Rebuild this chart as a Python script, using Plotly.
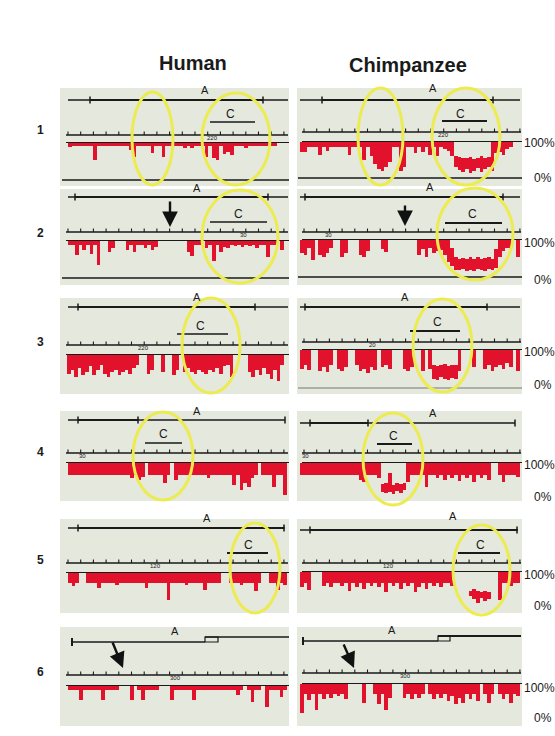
import plotly.graph_objects as go

W, H = 555, 736


def px(x):
    return x / W


def py(y):
    return 1 - y / H


# ------------------------------------------------------------------ data
row_labels = ["1", "2", "3", "4", "5", "6"]
column_titles = ["Human", "Chimpanzee"]
scale_labels = ["100%", "0%"]
region_labels = ["A", "C"]

# lower edge (percent) of the red coverage trace, 60 bins per panel
human_1 = [90, 92, 92, 92, 92, 92, 92, 53, 92, 92, 92, 92, 92, 92, 92, 92, 92, 80, 60, 92,
           92, 92, 92, 72, 92, 92, 60, 92, 92, 92, 92, 92, 86, 92, 85, 92, 92, 92, 60, 92,
           57, 53, 92, 70, 75, 68, 92, 92, 92, 85, 92, 92, 92, 92, 92, 92, 92, 92, 100, 100]
chimp_1 = [72, 72, 86, 86, 86, 64, 86, 75, 86, 86, 86, 86, 86, 64, 86, 86, 86, 50, 86, 60,
           40, 25, 20, 30, 45, 86, 86, 20, 30, 86, 86, 70, 86, 72, 86, 65, 86, 62, 86, 80,
           75, 60, 30, 22, 18, 25, 15, 20, 28, 18, 25, 30, 20, 70, 72, 65, 80, 86, 100, 100]
chimp_1_top = [100, 100, 100, 100, 100, 100, 100, 100, 100, 100, 100, 100, 100, 100, 100, 100, 100, 100, 100, 100,
               100, 100, 100, 100, 100, 100, 100, 100, 100, 100, 100, 100, 100, 100, 100, 100, 100, 100, 100, 100,
               100, 100, 60, 58, 56, 55, 58, 52, 55, 60, 55, 58, 100, 100, 100, 100, 100, 100, 100, 100]

human_2 = [89, 89, 62, 89, 75, 89, 65, 89, 35, 100, 100, 70, 80, 100, 100, 100, 75, 89, 70, 89,
           89, 80, 89, 75, 85, 100, 100, 100, 100, 100, 100, 100, 100, 70, 60, 89, 89, 100, 80, 89,
           45, 89, 70, 85, 80, 89, 86, 89, 84, 89, 86, 89, 82, 89, 89, 57, 89, 89, 100, 75]
chimp_2 = [65, 60, 78, 46, 100, 60, 55, 65, 78, 100, 100, 55, 65, 100, 100, 100, 60, 55, 70, 100,
           100, 100, 75, 68, 100, 100, 100, 100, 100, 100, 100, 100, 60, 75, 55, 78, 65, 70, 72, 60,
           40, 30, 20, 18, 22, 15, 20, 17, 22, 19, 16, 21, 18, 25, 55, 70, 78, 78, 100, 55]
chimp_2_top = [100, 100, 100, 100, 100, 100, 100, 100, 100, 100, 100, 100, 100, 100, 100, 100, 100, 100, 100, 100,
               100, 100, 100, 100, 100, 100, 100, 100, 100, 100, 100, 100, 100, 100, 100, 100, 100, 100, 100, 100,
               100, 78, 55, 50, 52, 48, 55, 50, 53, 50, 52, 55, 50, 75, 100, 100, 100, 100, 100, 100]

human_3 = [50, 60, 40, 65, 45, 55, 70, 45, 60, 73, 50, 40, 55, 60, 45, 55, 60, 50, 65, 73,
           100, 100, 50, 60, 100, 100, 55, 100, 100, 45, 60, 100, 55, 65, 55, 50, 60, 55, 50, 60,
           55, 65, 50, 70, 73, 40, 100, 100, 100, 100, 55, 40, 60, 45, 65, 50, 35, 60, 30, 73]
chimp_3 = [50, 60, 47, 100, 100, 45, 55, 42, 60, 100, 50, 45, 55, 100, 100, 60, 45, 50, 40, 55,
           48, 100, 55, 60, 50, 100, 100, 100, 50, 45, 55, 100, 100, 45, 100, 50, 25, 22, 28, 24,
           22, 26, 23, 45, 100, 100, 100, 55, 100, 100, 50, 60, 45, 55, 60, 50, 65, 55, 100, 45]
chimp_3_top = [100, 100, 100, 100, 100, 100, 100, 100, 100, 100, 100, 100, 100, 100, 100, 100, 100, 100, 100, 100,
               100, 100, 100, 100, 100, 100, 100, 100, 100, 100, 100, 100, 100, 100, 100, 100, 60, 58, 60, 62,
               58, 60, 60, 100, 100, 100, 100, 100, 100, 100, 100, 100, 100, 100, 100, 100, 100, 100, 100, 100]

human_4 = [65, 65, 65, 65, 65, 65, 65, 65, 65, 65, 65, 65, 65, 65, 65, 65, 65, 55, 65, 50,
           60, 100, 65, 65, 65, 65, 41, 65, 100, 50, 65, 65, 65, 65, 65, 65, 65, 65, 55, 65,
           65, 65, 65, 65, 65, 35, 65, 20, 40, 30, 55, 65, 100, 65, 65, 65, 30, 65, 65, 6]
chimp_4 = [65, 65, 65, 65, 65, 65, 65, 65, 65, 65, 65, 65, 65, 65, 65, 65, 50, 44, 65, 65,
           65, 55, 15, 12, 15, 10, 18, 12, 20, 45, 65, 65, 65, 65, 29, 65, 65, 55, 65, 50,
           65, 55, 65, 48, 65, 55, 65, 45, 65, 55, 65, 50, 100, 100, 65, 45, 65, 65, 65, 60]
chimp_4_top = [100, 100, 100, 100, 100, 100, 100, 100, 100, 100, 100, 100, 100, 100, 100, 100, 100, 100, 100, 100,
               100, 100, 38, 40, 70, 35, 40, 38, 42, 100, 100, 100, 100, 100, 100, 100, 100, 100, 100, 100,
               100, 100, 100, 100, 100, 100, 100, 100, 100, 100, 100, 100, 100, 100, 100, 100, 100, 100, 100, 100]

human_5 = [70, 60, 70, 100, 100, 70, 70, 70, 55, 70, 70, 70, 70, 65, 70, 70, 70, 70, 70, 70,
           70, 55, 70, 70, 70, 70, 70, 18, 70, 70, 70, 70, 65, 70, 70, 70, 70, 50, 70, 70,
           70, 70, 100, 100, 70, 70, 70, 65, 70, 70, 70, 45, 70, 100, 100, 70, 70, 50, 70, 65]
chimp_5 = [55, 68, 47, 100, 100, 100, 60, 68, 55, 68, 68, 60, 68, 45, 68, 55, 68, 50, 68, 60,
           68, 55, 68, 40, 68, 60, 68, 50, 68, 60, 68, 40, 55, 68, 50, 68, 60, 68, 55, 68,
           68, 60, 100, 100, 100, 100, 30, 20, 10, 25, 15, 20, 100, 100, 18, 68, 68, 60, 68, 68]
chimp_5_top = [100, 100, 100, 100, 100, 100, 100, 100, 100, 100, 100, 100, 100, 100, 100, 100, 100, 100, 100, 100,
               100, 100, 100, 100, 100, 100, 100, 100, 100, 100, 100, 100, 100, 100, 100, 100, 100, 100, 100, 100,
               100, 100, 100, 100, 100, 100, 45, 50, 45, 40, 45, 40, 100, 100, 100, 100, 100, 100, 100, 100]

human_6 = [87, 87, 87, 56, 87, 87, 87, 87, 87, 56, 87, 87, 87, 87, 100, 100, 100, 56, 100, 87,
           56, 87, 87, 87, 87, 100, 100, 100, 56, 87, 87, 87, 87, 87, 56, 87, 87, 87, 87, 87,
           87, 87, 87, 87, 87, 87, 72, 87, 100, 87, 50, 87, 87, 100, 35, 87, 87, 87, 65, 87]
chimp_6 = [15, 70, 53, 70, 24, 70, 55, 70, 60, 70, 65, 70, 55, 100, 100, 100, 100, 45, 100, 100,
           70, 40, 70, 25, 60, 100, 100, 100, 60, 70, 55, 70, 60, 70, 100, 70, 55, 70, 60, 70,
           50, 65, 40, 60, 45, 70, 55, 70, 50, 100, 70, 45, 70, 100, 70, 55, 70, 45, 70, 65]

ruler_numbers = {"H1": "220", "C1": "220", "H2": "30", "C2": "30", "H3": "220", "C3": "20",
                 "H4": "30", "C4": "30", "H5": "120", "C5": "120", "H6": "300", "C6": "300"}

# ------------------------------------------------------------------ geometry (pixels)
# key, bottom series, top series, x-left, x-right, y(100%), y(0%), ruler y, ruler label x
panels = [
    ("H1", human_1, None, 68, 284, 143, 179, 135, 212),
    ("C1", chimp_1, chimp_1_top, 300, 520, 142, 178, 132, 443),
    ("H2", human_2, None, 68, 284, 241, 278, 232, 243),
    ("C2", chimp_2, chimp_2_top, 300, 520, 240, 277, 232, 328),
    ("H3", human_3, None, 67, 284, 355, 392, 345, 143),
    ("C3", chimp_3, chimp_3_top, 300, 520, 350, 388, 342, 372),
    ("H4", human_4, None, 68, 287, 463, 497, 453, 82),
    ("C4", chimp_4, chimp_4_top, 300, 520, 463, 497, 453, 305),
    ("H5", human_5, None, 68, 287, 573, 606, 563, 155),
    ("C5", chimp_5, chimp_5_top, 300, 520, 572, 606, 563, 388),
    ("H6", human_6, None, 68, 287, 686, 718, 675, 175),
    ("C6", chimp_6, None, 300, 520, 684, 718, 673, 405),
]

bg_rows = [(88, 186), (189, 285), (298, 394), (411, 501), (519, 613), (627, 726)]
bg_cols = [(60, 289), (297, 522)]

RED = "#e2122c"
INK = "#1a1a1a"
YELLOW = "rgb(236,236,80)"
BG = "rgb(228,232,221)"
FONT = "Liberation Sans, Arial, sans-serif"

fig = go.Figure()
shapes = []
annotations = []


def line(x0, y0, x1, y1, w=1.2, color=INK, layer="above", dash=None):
    d = dict(type="line", xref="paper", yref="paper", x0=px(x0), y0=py(y0), x1=px(x1), y1=py(y1),
             line=dict(color=color, width=w), layer=layer)
    if dash:
        d["line"]["dash"] = dash
    shapes.append(d)


def text(x, y, s, size=11, bold=False, xanchor="center", color=INK):
    annotations.append(dict(x=px(x), y=py(y), xref="paper", yref="paper", text=f"<b>{s}</b>" if bold else s,
                            showarrow=False, xanchor=xanchor, yanchor="middle",
                            font=dict(family=FONT, size=size, color=color)))


# panel backgrounds
for (ya, yb) in bg_rows:
    for (xa, xb) in bg_cols:
        shapes.append(dict(type="rect", xref="paper", yref="paper", x0=px(xa), x1=px(xb), y0=py(yb), y1=py(ya),
                           fillcolor=BG, line=dict(width=0), layer="below"))

layout_axes = {}
for k, (key, lo, hi, x0, x1, y100, y0, ry, rlx) in enumerate(panels, start=1):
    top = hi if hi is not None else [100] * len(lo)
    heights = [t - b for t, b in zip(top, lo)]
    suffix = "" if k == 1 else str(k)
    fig.add_trace(go.Bar(x=list(range(len(lo))), y=heights, base=lo, width=1.0,
                         marker=dict(color=RED, line=dict(width=0)),
                         xaxis="x" + suffix, yaxis="y" + suffix, showlegend=False, hoverinfo="skip"))
    layout_axes["xaxis" + suffix] = dict(domain=[px(x0), px(x1)], range=[-0.5, len(lo) - 0.5], visible=False,
                                          anchor="y" + suffix, fixedrange=True)
    layout_axes["yaxis" + suffix] = dict(domain=[py(y0), py(y100)], range=[0, 100], visible=False,
                                          anchor="x" + suffix, fixedrange=True)
    human = key.startswith("H")
    left, right = (62, 289) if human else (298, 522)
    # 100 % base line
    line(left + 4, y100 - 0.5, right, y100 - 0.5, w=1.2)
    # ruler with ticks
    line(left + 4, ry, right - 1, ry, w=1.3)
    tx = left + 6
    while tx < right - 1:
        line(tx, ry, tx, ry - 3.5, w=1.1)
        tx += 12.7
    text(rlx, ry + 3, ruler_numbers[key], size=6)

# 0% lines (rows 1-3)
line(62, 180, 289, 180, w=1.4)
line(298, 178, 522, 178, w=1.4)
line(62, 278, 289, 278, w=1.4)
line(298, 277, 522, 277, w=1.4)
line(298, 388, 522, 388, w=1.2, color="#777777")

# A region brackets: y, start, end, brackets, thick segment
a_lines = [
    (100, 68, 288, [90, 263], (90, 263)),
    (100, 300, 520, [322, 493], (322, 493)),
    (197, 68, 288, [75, 268], (75, 268)),
    (197, 300, 520, [305, 503], (305, 503)),
    (307, 68, 288, [78, 255], (78, 255)),
    (307, 300, 520, [305, 487], (305, 487)),
    (420, 68, 285, [78, 138, 285], (78, 138)),
    (423, 300, 515, [310, 368, 515], (310, 368)),
    (528, 68, 285, [78, 284], (78, 284)),
    (530, 300, 518, [310, 517], (310, 517)),
]
for (y, xs, xe, brs, thick) in a_lines:
    line(xs, y, xe, y, w=1.4)
    line(thick[0], y, thick[1], y, w=1.9)
    for b in brs:
        line(b, y - 3.5, b, y + 3.5, w=1.5)

# row 6 A tracks
line(72, 642, 205, 642, w=1.5)
line(72, 638, 72, 646, w=2)
shapes.append(dict(type="rect", xref="paper", yref="paper", x0=px(205), x1=px(218), y0=py(642), y1=py(637),
                   line=dict(color=INK, width=1.2)))
line(205, 637, 289, 637, w=1.5)
line(303, 641, 438, 641, w=1.5)
line(303, 637, 303, 645, w=2)
shapes.append(dict(type="rect", xref="paper", yref="paper", x0=px(438), x1=px(450), y0=py(641), y1=py(636),
                   line=dict(color=INK, width=1.2)))
line(438, 636, 521, 636, w=2)

a_pos = [(205, 90), (433, 88), (197, 188), (430, 187), (197, 297), (405, 297),
         (197, 411), (433, 413), (207, 518), (453, 516), (175, 631), (392, 630)]
for (x, y) in a_pos:
    text(x, y, region_labels[0], size=11)

# C region lines and labels
c_lines = [(122, 210, 255, 1.5), (121, 442, 487, 2.2), (222, 210, 267, 1.5), (223, 445, 502, 2.2),
           (334, 177, 228, 1.5), (331, 410, 460, 1.8), (443, 145, 182, 1.5), (444, 377, 412, 2.2),
           (553, 227, 268, 2.2), (553, 458, 500, 2.2)]
for (y, xs, xe, w) in c_lines:
    line(xs, y, xe, y, w=w)
c_pos = [(230, 114), (460, 114), (238, 214), (472, 214), (200, 326), (437, 322),
         (163, 434), (393, 436), (248, 545), (480, 545)]
for (x, y) in c_pos:
    text(x, y, region_labels[1], size=12)

# yellow ellipses
ellipses = [(132, 92, 173, 185), (202, 93, 270, 185), (358, 88, 403, 185), (432, 88, 500, 185),
            (202, 190, 278, 283), (437, 188, 513, 280), (182, 298, 240, 393), (413, 299, 472, 392),
            (133, 412, 193, 500), (363, 413, 423, 505), (230, 523, 280, 613), (453, 525, 510, 615)]
for (xa, ya, xb, yb) in ellipses:
    shapes.append(dict(type="circle", xref="paper", yref="paper", x0=px(xa), x1=px(xb), y0=py(yb), y1=py(ya),
                       line=dict(color=YELLOW, width=3), layer="above"))

# arrows (head, tail)
arrows = [((170, 227), (170, 200)), ((405, 226), (405, 204)), ((123, 668), (112, 641)), ((354, 668), (343, 643))]
for (hx, hy), (tx_, ty_) in arrows:
    annotations.append(dict(x=px(hx), y=py(hy), xref="paper", yref="paper", ax=tx_ - hx, ay=ty_ - hy,
                            axref="pixel", ayref="pixel", text="", showarrow=True, arrowhead=2,
                            arrowsize=1.3, arrowwidth=2.4, arrowcolor="#111111", standoff=0))

# titles, row labels, percentage labels
text(193, 63, column_titles[0], size=20, bold=True)
text(408, 65, column_titles[1], size=20, bold=True)
row_y = [130, 233, 342, 452, 560, 672]
for lab, y in zip(row_labels, row_y):
    text(40, y, lab, size=12, bold=True)
hundred_y = [143, 243, 352, 465, 575, 688]
zero_y = [178, 280, 385, 497, 606, 718]
for y in hundred_y:
    text(522, y, scale_labels[0], size=12, xanchor="left")
for y in zero_y:
    text(532, y, scale_labels[1], size=12, xanchor="left")

fig.update_layout(width=W, height=H, margin=dict(l=0, r=0, t=0, b=0), paper_bgcolor="white",
                  plot_bgcolor="rgba(0,0,0,0)", bargap=0, showlegend=False,
                  shapes=shapes, annotations=annotations, **layout_axes)

fig.write_html("out.html", config={"displayModeBar": False},
               post_script="document.body.style.margin='0';document.body.style.overflow='hidden';")
